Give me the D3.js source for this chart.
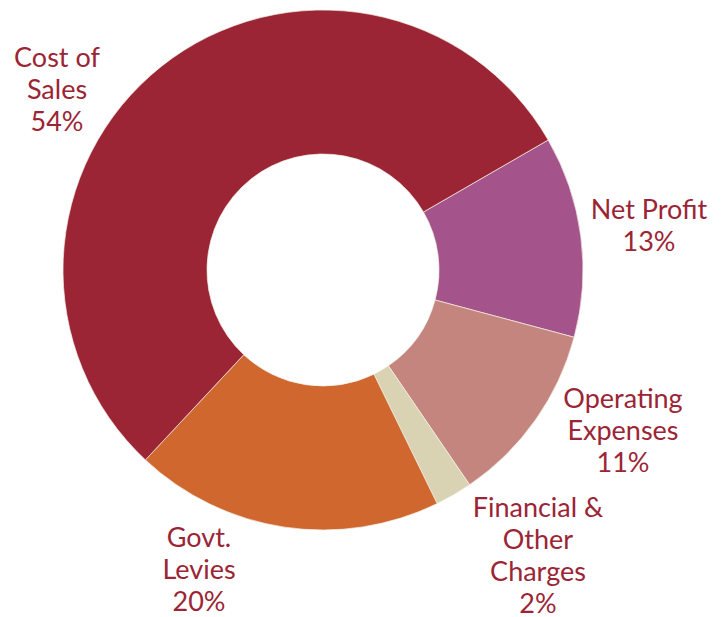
<!DOCTYPE html>
<html lang="en">
<head>
    <meta charset="UTF-8">
    <title>d3 donut</title>
    <script src="https://cdn.jsdelivr.net/npm/d3@7"></script>
    <style>
        body { margin: 0; background: #fff; }
        text.lbl {
            font-family: Lato, "Open Sans", sans-serif;
            font-size: 27px;
            fill: #9b2535;
        }
    </style>
</head>
<body>

<svg width="724" height="617" viewBox="0 0 724 617"></svg>

<script>
    // data, clockwise from the Net Profit slice (slice sizes)
    let categories = ["Net Profit", "Operating Expenses", "Financial & Other Charges", "Govt. Levies", "Cost of Sales"]
    let shares = [12.5, 11.3, 2.3, 19.2, 54.7]
    let labelLines = [
        ["Net Profit", "13%"],
        ["Operating", "Expenses", "11%"],
        ["Financial &", "Other", "Charges", "2%"],
        ["Govt.", "Levies", "20%"],
        ["Cost of", "Sales", "54%"]
    ]
    let colors = ["#a5548b", "#c5857f", "#d9d3b3", "#cf672e", "#9b2535"]

    // where each label block sits (x centre, first baseline)
    let labelPos = [[649, 219], [623, 408], [538, 517], [199, 547], [57, 67]]

    let svg = d3.select('svg')
    let cx = 323, cy = 270
    let outerR = 260, innerR = 116

    let pie = d3.pie()
        .sort(null)
        .value(function (d){return d})
        .startAngle(Math.PI * 60 / 180)
        .endAngle(Math.PI * 60 / 180 + 2 * Math.PI)

    let arc = d3.arc().innerRadius(innerR).outerRadius(outerR)

    let color = d3.scaleOrdinal().domain(categories).range(colors)

    let fig = svg.append('g').attr("transform", "translate(" + cx + "," + cy + ")")

    fig.selectAll('path')
        .data(pie(shares))
        .enter()
        .append('path')
        .attr("d", arc)
        .attr("fill", function (d, i){return color(categories[i])})
        .attr("stroke", "#f4f1e6")
        .attr("stroke-width", 0.7)

    //labels
    let lineH = 32
    labelLines.forEach(function (lines, i){
        let t = svg.append('text')
            .attr("class", "lbl")
            .attr("text-anchor", "middle")
            .attr("x", labelPos[i][0])
            .attr("y", labelPos[i][1])
        lines.forEach(function (s, j){
            t.append('tspan')
                .attr("x", labelPos[i][0])
                .attr("dy", j === 0 ? 0 : lineH)
                .text(s)
        })
    })
</script>

</body>
</html>
